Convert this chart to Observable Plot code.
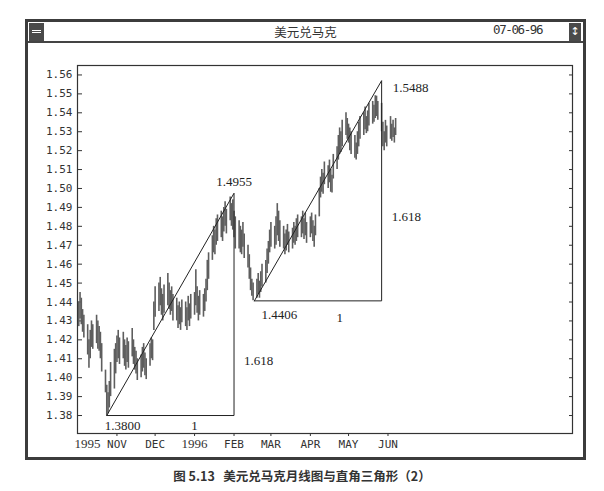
<!DOCTYPE html>
<html>
<head>
<meta charset="utf-8">
<script src="https://cdn.jsdelivr.net/npm/d3@7"></script>
<script src="https://cdn.jsdelivr.net/npm/@observablehq/plot@0.6"></script>
<style>
  body { margin: 0; background: #fff; width: 604px; height: 491px; position: relative; overflow: hidden; }
  #win { position: absolute; left: 25px; top: 19px; width: 561px; height: 441px; border: 3px solid #3c3c3c; box-sizing: border-box; }
  #bar { position: absolute; left: 0; top: 0; width: 555px; height: 19px; border-bottom: 2px solid #444; }
  #btnL { position: absolute; left: 1px; top: 1px; width: 15px; height: 18px; background: #4a4a4a; }
  #btnL div { position: absolute; left: 3px; top: 7px; width: 9px; height: 3px; border: 1px solid #fff; border-left: none; border-right: none; box-sizing: border-box; }
  #btnR { position: absolute; left: 541px; top: 1px; width: 12px; height: 18px; background: #4a4a4a; color: #fff; font: 11px "DejaVu Sans"; line-height: 18px; text-align: center; }
  #title { position: absolute; left: 0; width: 555px; top: 0; line-height: 20px; text-align: center; font: 12.5px "Noto Sans CJK SC"; color: #333; }
  #date { position: absolute; left: 465px; top: 0; line-height: 21px; font: 12.5px "DejaVu Sans Mono"; color: #333; letter-spacing: -1.4px; }
  #chart { position: absolute; left: 0; top: 21px; }
  #caption { position: absolute; left: 0; top: 466px; width: 604px; text-align: center; font: bold 12.5px "Noto Sans CJK SC"; color: #333; }
</style>
</head>
<body>
<div id="win">
  <div id="bar">
    <div id="btnL"><div></div></div>
    <div id="title">美元兑马克</div>
    <div id="date">07-06-96</div>
    <div id="btnR">↕</div>
  </div>
  <div id="chart"></div>
</div>
<div id="caption">图 5.13&nbsp;&nbsp;&nbsp;美元兑马克月线图与直角三角形（2）</div>
<script>
// daily high / low, one row of five per trading week, from Mon 2 Oct 1995 to Fri 7 Jun 1996
const high = [
  1.440, 1.445, 1.442, 1.436, 1.433,
  1.428, 1.420, 1.425, 1.430, 1.428,
  1.433, 1.430, 1.427, 1.424, 1.418,
  1.404, 1.396, 1.392, 1.398, 1.408,
  1.415, 1.418, 1.422, 1.425, 1.421,
  1.424, 1.420, 1.417, 1.421, 1.419,
  1.426, 1.420, 1.416, 1.414, 1.410,
  1.412, 1.416, 1.418, 1.413, 1.410,
  1.418, 1.421, 1.420, 1.440, 1.448,
  1.450, 1.453, 1.447, 1.444, 1.449,
  1.455, 1.450, 1.446, 1.448, 1.444,
  1.442, 1.438, 1.440, 1.437, 1.441,
  1.440, 1.437, 1.443, 1.439, 1.444,
  1.445, 1.457, 1.448, 1.443, 1.446,
  1.444, 1.447, 1.452, 1.462, 1.466,
  1.475, 1.480, 1.478, 1.484, 1.486,
  1.488, 1.485, 1.490, 1.493, 1.489,
  1.4955, 1.492, 1.494, 1.488, 1.485,
  1.483, 1.480, 1.478, 1.482, 1.476,
  1.470, 1.465, 1.458, 1.452, 1.450,
  1.452, 1.455, 1.451, 1.456, 1.460,
  1.462, 1.468, 1.472, 1.478, 1.482,
  1.480, 1.485, 1.492, 1.488, 1.483,
  1.480, 1.476, 1.478, 1.481, 1.477,
  1.479, 1.482, 1.480, 1.484, 1.486,
  1.485, 1.488, 1.484, 1.487, 1.482,
  1.485, 1.487, 1.483, 1.480, 1.486,
  1.500, 1.506, 1.510, 1.508, 1.514,
  1.512, 1.515, 1.510, 1.507, 1.518,
  1.522, 1.528, 1.532, 1.530, 1.536,
  1.540, 1.537, 1.534, 1.532, 1.530,
  1.528, 1.524, 1.530, 1.535, 1.538,
  1.540, 1.543, 1.538, 1.541, 1.545,
  1.546, 1.544, 1.549, 1.5488, 1.546,
  1.545, 1.535, 1.530, 1.536, 1.533,
  1.538, 1.534, 1.536, 1.532, 1.537
];
const low = [
  1.427, 1.431, 1.428, 1.424, 1.421,
  1.412, 1.405, 1.410, 1.416, 1.415,
  1.418, 1.415, 1.414, 1.410, 1.403,
  1.392, 1.380, 1.381, 1.384, 1.390,
  1.394, 1.402, 1.408, 1.410, 1.407,
  1.410, 1.406, 1.404, 1.408, 1.405,
  1.411, 1.407, 1.404, 1.402, 1.3985,
  1.400, 1.403, 1.405, 1.401, 1.399,
  1.406, 1.410, 1.409, 1.425, 1.432,
  1.435, 1.438, 1.433, 1.430, 1.434,
  1.438, 1.436, 1.433, 1.435, 1.430,
  1.430, 1.426, 1.428, 1.425, 1.429,
  1.427, 1.425, 1.430, 1.427, 1.431,
  1.433, 1.438, 1.434, 1.430, 1.433,
  1.432, 1.435, 1.440, 1.446, 1.452,
  1.462, 1.466, 1.465, 1.470, 1.472,
  1.474, 1.472, 1.477, 1.480, 1.476,
  1.483, 1.480, 1.478, 1.474, 1.468,
  1.468, 1.466, 1.465, 1.469, 1.463,
  1.458, 1.452, 1.446, 1.443, 1.4406,
  1.442, 1.444, 1.442, 1.445, 1.448,
  1.450, 1.455, 1.460, 1.466, 1.469,
  1.468, 1.470, 1.475, 1.472, 1.469,
  1.468, 1.465, 1.467, 1.470, 1.466,
  1.468, 1.471, 1.470, 1.472, 1.474,
  1.474, 1.476, 1.473, 1.475, 1.471,
  1.474, 1.476, 1.472, 1.469, 1.475,
  1.485, 1.495, 1.498, 1.497, 1.502,
  1.500, 1.503, 1.498, 1.4976, 1.505,
  1.510, 1.515, 1.518, 1.519, 1.522,
  1.528, 1.526, 1.524, 1.520, 1.518,
  1.516, 1.515, 1.518, 1.522, 1.526,
  1.528, 1.531, 1.529, 1.530, 1.533,
  1.534, 1.535, 1.537, 1.538, 1.536,
  1.530, 1.522, 1.520, 1.524, 1.522,
  1.526, 1.525, 1.527, 1.524, 1.528
];

// right-angle triangles: low corner, right angle, top
const tri1 = [["1995-10-24", 1.38], ["1996-02-01", 1.38], ["1996-02-01", 1.4975]];
const tri2 = [["1996-02-17", 1.4406], ["1996-05-27", 1.4406], ["1996-05-27", 1.557]];
const baseLabels = [["1996-01-01", 1.38, "1"], ["1996-04-24", 1.4406, "1"]];
const ratioLabels = [["1996-02-01", 1.409, "1.618"], ["1996-05-27", 1.4848, "1.618"]];

const yTicks = d3.range(138, 157).map(d => d / 100);
const monthTicks = ["1995-11-01", "1995-12-01", "1996-01-01", "1996-02-01", "1996-03-01", "1996-04-01", "1996-05-01", "1996-06-01"];
const monthNames = ["NOV", "DEC", "FEB", "MAR", "APR", "MAY", "JUN"];
const monthDates = ["1995-11-01", "1995-12-01", "1996-02-01", "1996-03-01", "1996-04-01", "1996-05-01", "1996-06-01"];
const yearNames = ["1995", "1996"];
const yearDates = ["1995-10-01", "1996-01-01"];

const days = d3.utcDay.range(new Date("1995-10-02"), new Date("1996-06-08"))
  .filter(d => d.getUTCDay() !== 0 && d.getUTCDay() !== 6);
const bars = days.map((date, i) => ({date, high: high[i], low: low[i]}));

const pt = ([d, v]) => ({date: new Date(d), value: v});
const t1 = [...tri1, tri1[0]].map(pt);
const t2 = [...tri2, tri2[0]].map(pt);
const lab = ([d, v, text]) => ({date: new Date(d), value: v, text});

const serif = "Liberation Serif";
const mono = "DejaVu Sans Mono";

const chart = Plot.plot({
  width: 555,
  height: 414,
  marginLeft: 49,
  marginTop: 22,
  marginRight: 11,
  marginBottom: 24,
  style: {color: "#333", background: "white"},
  x: {type: "utc", domain: [new Date("1995-10-01"), new Date("1996-10-24")]},
  y: {domain: [1.3705, 1.565]},
  marks: [
    Plot.frame({stroke: "#333", strokeWidth: 1.2}),
    Plot.axisY({ticks: yTicks, tickFormat: d3.format(".2f"), tickSize: -5, tickPadding: 10,
      fontFamily: mono, fontSize: 11, stroke: "#333"}),
    Plot.axisY({anchor: "right", ticks: yTicks, tickFormat: () => "", tickSize: -4, stroke: "#333"}),
    Plot.axisX({ticks: monthTicks.map(d => new Date(d)), tickFormat: () => "", tickSize: 3, stroke: "#333"}),
    Plot.text(monthNames, {x: (d, i) => new Date(monthDates[i]), text: d => d, frameAnchor: "bottom",
      dy: 14, fontFamily: mono, fontSize: 11, letterSpacing: "-1.2px", fill: "#333"}),
    Plot.text(yearNames.slice(0, 1), {x: (d, i) => new Date(yearDates[i]), text: d => d, frameAnchor: "bottom",
      dy: 14, fontFamily: serif, fontSize: 13, fill: "#333", textAnchor: "start", dx: -3}),
    Plot.text(yearNames.slice(1), {x: (d, i) => new Date(yearDates[i + 1]), text: d => d, frameAnchor: "bottom",
      dy: 14, fontFamily: serif, fontSize: 13, fill: "#333"}),
    Plot.ruleX(bars, {x: "date", y1: "low", y2: "high", stroke: "#5e5e5e", strokeWidth: 1.6}),
    Plot.line(t1, {x: "date", y: "value", stroke: "#222", strokeWidth: 1}),
    Plot.line(t2, {x: "date", y: "value", stroke: "#222", strokeWidth: 1}),
    Plot.text([t1[0]], {x: "date", y: "value", text: d => d.value.toFixed(4), textAnchor: "start", dx: -2, dy: 10,
      fontFamily: serif, fontSize: 13, fill: "#222"}),
    Plot.text([t1[2]], {x: "date", y: "value", text: () => "1.4955", dy: -11,
      fontFamily: serif, fontSize: 13, fill: "#222"}),
    Plot.text([t2[0]], {x: "date", y: "value", text: d => d.value.toFixed(4), textAnchor: "start", dx: 7, dy: 14,
      fontFamily: serif, fontSize: 13, fill: "#222"}),
    Plot.text([t2[2]], {x: "date", y: "value", text: () => "1.5488", textAnchor: "start", dx: 11, dy: 7,
      fontFamily: serif, fontSize: 13, fill: "#222"}),
    Plot.text(baseLabels.slice(0, 1).map(lab), {x: "date", y: "value", text: "text", dy: 10,
      fontFamily: serif, fontSize: 13, fill: "#222"}),
    Plot.text(baseLabels.slice(1).map(lab), {x: "date", y: "value", text: "text", dy: 17,
      fontFamily: serif, fontSize: 13, fill: "#222"}),
    Plot.text(ratioLabels.map(lab), {x: "date", y: "value", text: "text", textAnchor: "start", dx: 10,
      fontFamily: serif, fontSize: 13, fill: "#222"})
  ]
});

d3.select("#chart").append(() => chart);
</script>
</body>
</html>
